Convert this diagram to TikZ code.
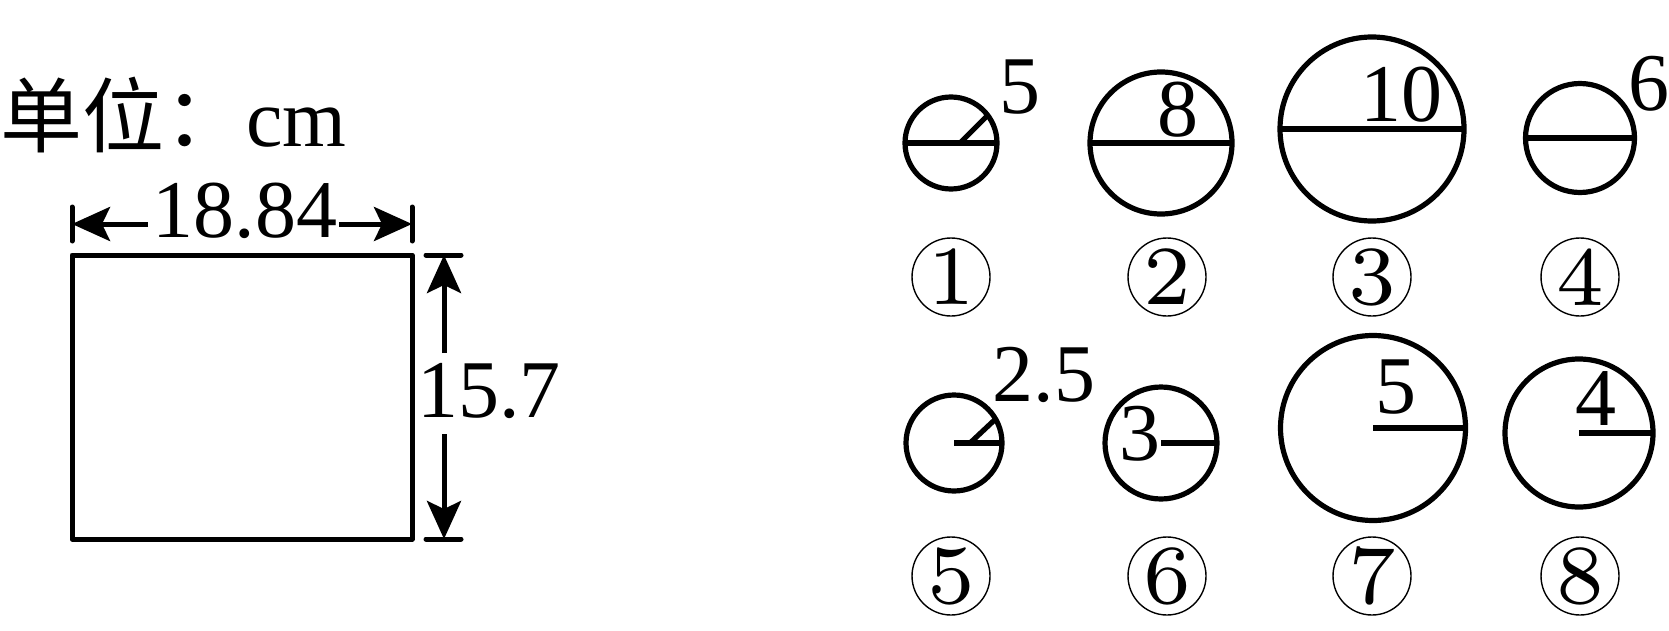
\documentclass[tikz,border=0pt]{standalone}
\usepackage{fontspec}
\newfontfamily\tnr{Liberation Serif}
\newfontfamily\cjk{Noto Sans CJK SC}
\newfontfamily\lmsev{lmroman7-regular.otf}
\usetikzlibrary{arrows.meta}
\begin{document}
\begin{tikzpicture}[x=0.5pt,y=-0.5pt,
  fig/.style={line width=2.6pt},
  ring/.style={circle,draw,line width=2.6pt,inner sep=0pt,outer sep=0pt},
  lab/.style={circle,draw,line width=0.7pt,minimum size=39pt,inner sep=0pt,font=\lmsev\fontsize{42}{42}\selectfont},
  num/.style={inner sep=0pt,font=\tnr\fontsize{41}{41}\selectfont},
  dimarrow/.style={line width=2.5pt,-{Stealth[length=19pt,width=17pt,inset=4pt]}},
  tickline/.style={line width=2.5pt,line cap=round},
]
\useasboundingbox (0,0) rectangle (1669,631);

% ---- left part ----
\node[anchor=base west,inner sep=0pt,font=\tnr\fontsize{41}{41}\selectfont] (unit) at (0,147)
  {{\cjk\fontsize{41}{41}\selectfont 单位：}cm};

\node[draw,line width=2.5pt,line join=round,minimum width=170pt,minimum height=142pt,inner sep=0pt,outer sep=0pt] (rect) at (242,397) {};

% horizontal dimension
\coordinate (hl) at (72,224);
\coordinate (hr) at (412,224);
\coordinate (hla) at (148,224);
\coordinate (hra) at (339,224);
\coordinate (hlt) at (72,207);
\coordinate (hlb) at (72,241);
\coordinate (hrt) at (412,207);
\coordinate (hrb) at (412,241);
\draw[tickline] (hlt) -- (hlb);
\draw[tickline] (hrt) -- (hrb);
\draw[dimarrow] (hla) -- (hl);
\draw[dimarrow] (hra) -- (hr);
\node[num] (wlab) at (245,211) {18.84};

% vertical dimension
\coordinate (vt) at (444,255);
\coordinate (vb) at (444,539);
\coordinate (vta) at (444,353);
\coordinate (vba) at (444,434);
\coordinate (vtl) at (426,255);
\coordinate (vtr) at (461,255);
\coordinate (vbl) at (426,539);
\coordinate (vbr) at (461,539);
\draw[tickline] (vtl) -- (vtr);
\draw[tickline] (vbl) -- (vbr);
\draw[dimarrow] (vta) -- (vt);
\draw[dimarrow] (vba) -- (vb);
\node[num] (hlab) at (489,391) {15.7};

% ---- right part: row 1 ----
\node[ring,minimum size=46pt] (c1) at (951,143) {};
\draw[fig] (c1.west) -- (c1.east);
\coordinate (c1s) at (960,143);
\draw[fig] (c1s) -- (c1.37);
\node[num] (t1) at (1020,87) {5};

\node[ring,minimum size=71pt] (c2) at (1161,143) {};
\draw[fig] (c2.west) -- (c2.east);
\node[num] (t2) at (1178,110) {8};

\node[ring,minimum size=92pt] (c3) at (1372,129) {};
\draw[fig] (c3.west) -- (c3.east);
\node[num] (t3) at (1401,95) {10};

\node[ring,minimum size=54.5pt] (c4) at (1580,138) {};
\draw[fig] (c4.west) -- (c4.east);
\node[num] (t4) at (1649,84) {6};

\node[lab] (l1) at (951,277) {1};
\node[lab] (l2) at (1167,277) {2};
\node[lab] (l3) at (1372,277) {3};
\node[lab] (l4) at (1580,277) {4};

% ---- right part: row 2 ----
\node[ring,minimum size=48pt] (c5) at (954,443) {};
\draw[fig] (c5.center) -- (c5.east);
\coordinate (c5s) at (970,443);
\draw[fig] (c5s) -- (c5.30);
\node[num] (t5) at (1044,375) {2.5};

\node[ring,minimum size=56pt] (c6) at (1161,443) {};
\draw[fig] (c6.center) -- (c6.east);
\node[num] (t6) at (1140,434) {3};

\node[ring,minimum size=92.5pt] (c7) at (1373,428) {};
\draw[fig] (c7.center) -- (c7.east);
\node[num] (t7) at (1396,387) {5};

\node[ring,minimum size=74pt] (c8) at (1579,433) {};
\draw[fig] (c8.center) -- (c8.east);
\node[num] (t8) at (1596,399) {4};

\node[lab] (l5) at (951,576) {5};
\node[lab] (l6) at (1167,576) {6};
\node[lab] (l7) at (1372,576) {7};
\node[lab] (l8) at (1580,576) {8};
\end{tikzpicture}
\end{document}
